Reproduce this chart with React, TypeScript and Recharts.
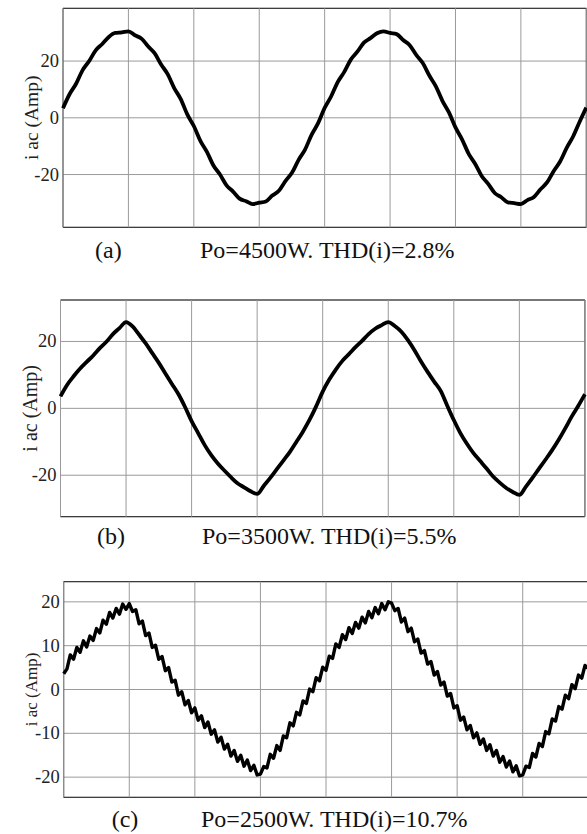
import React from 'react';
import { LineChart, Line, XAxis, YAxis, CartesianGrid, ReferenceArea, ReferenceLine } from 'recharts';

// time axis: 8 divisions of 5 ms (two mains cycles)
const TIME_TICKS = [0, 5, 10, 15, 20, 25, 30, 35, 40];
const STEP_AB = 0.5; // ms between samples, panels (a) and (b)
const STEP_C = 0.25; // ms between samples, panel (c)

const Y_TICKS_A = [-20, 0, 20];
const Y_TICKS_B = [-20, 0, 20];
const Y_TICKS_C = [-20, -10, 0, 10, 20];

const CAPTION_TAGS = ['(a)', '(b)', '(c)'];
const CAPTION_TEXTS = ['Po=4500W. THD(i)=2.8%', 'Po=3500W. THD(i)=5.5%', 'Po=2500W. THD(i)=10.7%'];

// (a) Po = 4500 W
const CURRENT_A = [
  3.4, 8.3, 12.0, 16.8, 20.0, 23.8, 26.0, 28.5, 29.9, 30.1,
  30.5, 29.1, 27.9, 25.2, 22.8, 18.8, 15.4, 10.5, 6.6, 1.2,
  -2.9, -8.1, -12.0, -16.8, -20.0, -23.8, -26.0, -28.5, -29.4, -30.4,
  -29.9, -29.5, -27.4, -25.7, -22.3, -19.4, -14.9, -11.2, -6.0, -1.9,
  3.5, 7.6, 12.6, 16.2, 20.5, 23.3, 26.5, 28.1, 29.8, 30.5,
  29.9, 29.5, 27.4, 25.6, 22.2, 19.3, 14.9, 11.1, 6.0, 1.9,
  -3.4, -7.6, -12.6, -16.2, -20.5, -23.3, -26.5, -28.0, -29.8, -30.1,
  -30.4, -29.0, -27.9, -25.2, -22.8, -18.8, -15.4, -10.6, -6.5, -1.3,
  3.6,
];

// (b) Po = 3500 W
const CURRENT_B = [
  3.6, 7.0, 9.6, 11.9, 13.9, 15.8, 18.0, 19.9, 22.2, 24.0,
  25.8, 24.5, 22.0, 19.4, 16.5, 13.6, 10.4, 7.3, 4.2, 0.4,
  -3.8, -7.4, -11.0, -14.0, -16.5, -18.6, -20.6, -22.4, -23.6, -24.8,
  -25.6, -23.2, -20.8, -18.2, -15.6, -13.0, -10.0, -6.9, -3.4, 0.6,
  5.0, 8.6, 11.6, 14.2, 16.2, 18.3, 20.2, 22.2, 23.8, 24.9,
  25.8, 24.6, 22.9, 20.4, 17.4, 14.0, 10.9, 8.0, 5.2, 0.8,
  -3.5, -7.4, -10.6, -13.4, -15.7, -18.0, -20.4, -22.2, -23.8, -25.0,
  -25.9, -23.4, -20.8, -18.0, -15.3, -12.5, -9.4, -6.0, -2.4, 0.8,
  4.2,
];

// (c) Po = 2500 W, switching ripple visible
const CURRENT_C = [
  3.6, 4.7, 7.9, 6.9, 9.6, 8.5, 11.1, 9.7, 12.2, 11.2,
  13.9, 12.9, 15.8, 14.9, 17.6, 16.3, 18.5, 17.2, 19.5, 18.3,
  19.6, 17.8, 18.2, 15.0, 15.6, 12.3, 12.9, 9.6, 10.1, 6.9,
  7.5, 4.3, 5.0, 1.7, 2.1, -1.3, -0.5, -3.5, -2.5, -5.3,
  -4.2, -7.0, -6.0, -8.7, -7.4, -10.2, -9.2, -12.0, -10.9, -13.6,
  -12.5, -15.2, -13.9, -16.4, -15.0, -17.5, -16.1, -18.5, -17.3, -19.5,
  -19.3, -17.6, -17.9, -14.8, -15.7, -12.8, -13.9, -10.6, -11.0, -7.6,
  -8.3, -5.2, -5.8, -2.6, -3.2, 0.1, -0.5, 2.7, 2.0, 5.1,
  4.4, 7.6, 7.1, 10.4, 9.6, 12.5, 11.4, 14.1, 12.8, 15.3,
  14.0, 16.5, 15.2, 17.8, 16.4, 18.7, 17.3, 19.6, 18.2, 20.0,
  19.7, 18.0, 18.5, 15.4, 16.3, 13.2, 14.0, 10.9, 11.5, 8.3,
  8.9, 5.8, 6.4, 3.3, 4.1, 1.0, 1.7, -1.5, -0.9, -4.2,
  -3.7, -7.0, -6.3, -9.2, -8.2, -11.0, -9.9, -12.5, -11.3, -13.9,
  -12.6, -15.2, -13.9, -16.6, -15.3, -17.7, -16.3, -18.8, -17.4, -19.7,
  -19.5, -17.5, -17.8, -14.6, -15.4, -12.3, -13.0, -9.6, -10.1, -6.7,
  -7.2, -3.9, -4.5, -1.3, -2.1, 1.1, 0.2, 3.3, 2.6, 5.5,
  4.8,
];

const SERIF = "'Liberation Serif', 'Times New Roman', serif";

const toRows = (values: number[], step: number) => values.map((v, k) => ({ t: k * step, i: v }));

const YTitle = ({ viewBox, x, size }: any) => {
  const cy = viewBox.y + viewBox.height / 2;
  return (
    <text
      x={x}
      y={cy}
      transform={`rotate(-90 ${x} ${cy})`}
      textAnchor="middle"
      dominantBaseline="central"
      fontFamily={SERIF}
      fontSize={size}
      fill="#222"
    >
      i ac (Amp)
    </text>
  );
};

const YTick = ({ x, y, payload }: any) => (
  <text x={x} y={y} textAnchor="end" dominantBaseline="central" fontFamily={SERIF} fontSize={18.5} fill="#222">
    {payload.value}
  </text>
);

interface PanelProps {
  top: number;
  height: number;
  margin: { top: number; right: number; bottom: number; left: number };
  axisWidth: number;
  rows: { t: number; i: number }[];
  yLim: number;
  yTicks: number[];
  titleX: number;
  titleSize: number;
  curve: 'monotone' | 'linear';
  lineWidth: number;
}

const Panel: React.FC<PanelProps> = ({ top, height, margin, axisWidth, rows, yLim, yTicks, titleX, titleSize, curve, lineWidth }) => (
  <div style={{ position: 'absolute', left: 0, top }}>
    <LineChart width={600} height={height} data={rows} margin={margin}>
      <CartesianGrid stroke="#9a9a9a" strokeWidth={1} vertical={false} />
      <XAxis
        dataKey="t"
        type="number"
        domain={[0, 40]}
        ticks={TIME_TICKS}
        tick={false}
        tickLine={false}
        axisLine={false}
        height={0}
      />
      <YAxis
        type="number"
        domain={[-yLim, yLim]}
        ticks={yTicks}
        width={axisWidth}
        axisLine={false}
        tickLine={false}
        tickSize={4}
        tickMargin={0}
        tick={<YTick />}
        label={<YTitle x={titleX} size={titleSize} />}
      />
      {TIME_TICKS.map((t) => (
        <ReferenceLine key={t} x={t} stroke="#9a9a9a" strokeWidth={1} />
      ))}
      <ReferenceArea x1={0} x2={40} y1={-yLim} y2={yLim} fill="none" stroke="#222" strokeWidth={1} fillOpacity={0} />
      <Line
        type={curve}
        dataKey="i"
        stroke="#000"
        strokeWidth={lineWidth}
        strokeLinejoin="round"
        dot={false}
        isAnimationActive={false}
      />
    </LineChart>
  </div>
);

const Caption = ({ tag, text, baseline, tagX, textX }: any) => (
  <>
    <div style={{ position: 'absolute', left: tagX, top: baseline - 20.1, fontFamily: SERIF, fontSize: 24, lineHeight: '24px', color: '#111', whiteSpace: 'nowrap' }}>
      {tag}
    </div>
    <div style={{ position: 'absolute', left: textX, top: baseline - 20.1, fontFamily: SERIF, fontSize: 24, lineHeight: '24px', color: '#111', whiteSpace: 'nowrap' }}>
      {text}
    </div>
  </>
);

export default function App() {
  return (
    <div style={{ position: 'absolute', left: 0, top: 0, width: 587, height: 834, overflow: 'hidden', background: '#fff', fontFamily: SERIF }}>
      <Panel
        top={0}
        height={240}
        margin={{ top: 8.3, right: 13.7, bottom: 12.7, left: 0 }}
        axisWidth={63}
        rows={toRows(CURRENT_A, STEP_AB)}
        yLim={38.6}
        yTicks={Y_TICKS_A}
        titleX={25}
        titleSize={19.5}
        curve="monotone"
        lineWidth={3.8}
      />
      <Panel
        top={280}
        height={250}
        margin={{ top: 20, right: 15.1, bottom: 13.3, left: 0 }}
        axisWidth={60.5}
        rows={toRows(CURRENT_B, STEP_AB)}
        yLim={32.4}
        yTicks={Y_TICKS_B}
        titleX={22}
        titleSize={20}
        curve="monotone"
        lineWidth={3.8}
      />
      <Panel
        top={560}
        height={250}
        margin={{ top: 21.7, right: 11.7, bottom: 12.7, left: 0 }}
        axisWidth={63.7}
        rows={toRows(CURRENT_C, STEP_C)}
        yLim={24.6}
        yTicks={Y_TICKS_C}
        titleX={25}
        titleSize={17}
        curve="linear"
        lineWidth={3.4}
      />
      <Caption tag={CAPTION_TAGS[0]} text={CAPTION_TEXTS[0]} baseline={258} tagX={95} textX={200} />
      <Caption tag={CAPTION_TAGS[1]} text={CAPTION_TEXTS[1]} baseline={544.5} tagX={97} textX={202} />
      <Caption tag={CAPTION_TAGS[2]} text={CAPTION_TEXTS[2]} baseline={826.7} tagX={111.7} textX={201} />
    </div>
  );
}
